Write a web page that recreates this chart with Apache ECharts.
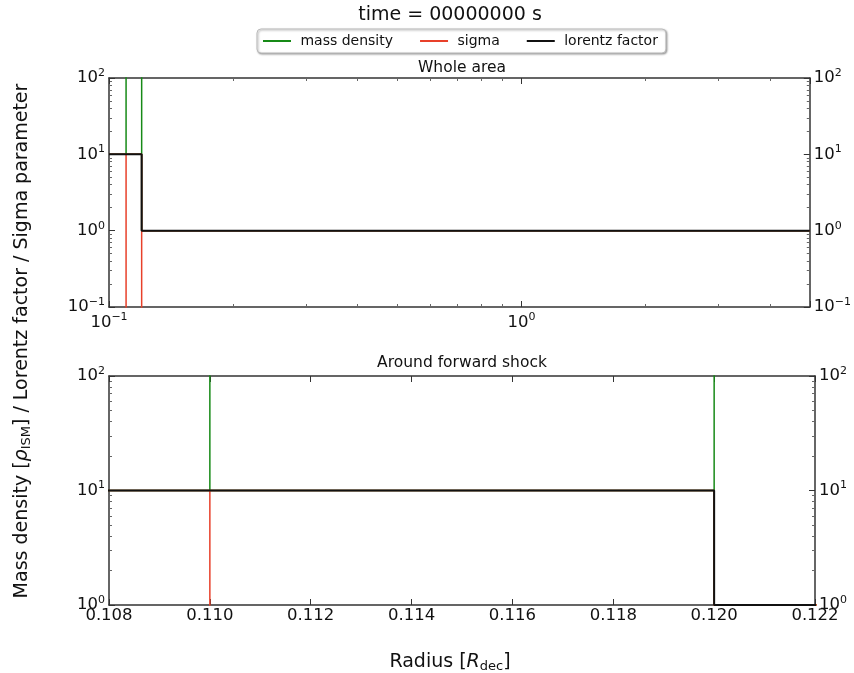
<!DOCTYPE html>
<html>
<head>
<meta charset="utf-8">
<script src="https://cdn.jsdelivr.net/npm/echarts@6/dist/echarts.min.js"></script>
<style>
    html, body { margin: 0; padding: 0; background: #fff; }
    #chart { width: 854px; height: 673px; }
</style>
</head>
<body>
<div id="chart"></div>
<script>
// radius grid points (shared by both panels, lower panel just zooms in)
var radius = [0.1, 0.11, 0.11, 0.11, 0.12, 0.12, 0.12, 5];
var massDensity = [10, 10, 1000, 10, 10, 1000, 1, 1];
var sigma = [10, 10, 0.001, 10, 10, 0.001, 1, 1];
var lorentzRadius = [0.1, 0.12, 0.12, 5];
var lorentzFactor = [10, 10, 1, 1];

var seriesNames = ['mass density', 'sigma', 'lorentz factor'];
var seriesColors = ['#178a17', '#e8402a', '#111111'];

var FONT = 'DejaVu Sans';
var TICK_FS = 16.5;

function pairs(xs, ys) {
    var out = [];
    for (var i = 0; i < xs.length; i++) out.push([xs[i], ys[i]]);
    return out;
}

function powLabel(v) {
    var e = Math.round(Math.log10(v));
    if (Math.abs(Math.pow(10, e) - v) > 1e-9 * Math.pow(10, e)) return '';
    var s = e < 0 ? '\u2212' + (-e) : '' + e;
    return '10{s|' + s + '}';
}

var supRich = {
    s: { fontSize: 11, fontFamily: FONT, color: '#111', padding: [0, 0, 10, 0] }
};

var lineCol = '#333';

function logAxis(grid, pos, min, max, showLabel) {
    return {
        type: 'log',
        logBase: 10,
        gridIndex: grid,
        position: pos,
        min: min,
        max: max,
        axisLine: { show: true, lineStyle: { color: lineCol, width: 1.5 } },
        axisTick: { show: true, inside: true, length: 6, lineStyle: { color: lineCol } },
        minorTick: { show: true, splitNumber: 9, length: 3, lineStyle: { color: '#666' } },
        splitLine: { show: false },
        axisLabel: {
            show: showLabel,
            formatter: powLabel,
            fontSize: TICK_FS,
            fontFamily: FONT,
            color: '#111',
            margin: 4,
            rich: supRich
        }
    };
}

var xLin = {
    type: 'value',
    gridIndex: 1,
    position: 'bottom',
    min: 0.108,
    max: 0.122,
    interval: 0.002,
    axisLine: { show: true, lineStyle: { color: lineCol, width: 1.5 } },
    axisTick: { show: true, inside: true, length: 6, lineStyle: { color: lineCol } },
    splitLine: { show: false },
    axisLabel: {
        formatter: function (v) { return v.toFixed(3); },
        fontSize: TICK_FS,
        fontFamily: FONT,
        color: '#111',
        margin: 2,
        showMinLabel: true,
        showMaxLabel: true
    }
};
var xLinTop = JSON.parse(JSON.stringify(xLin));
xLinTop.position = 'top';
xLinTop.axisLabel = { show: false };

var series = [];
[0, 1].forEach(function (g) {
    series.push({
        name: seriesNames[0], type: 'line', xAxisIndex: g * 2, yAxisIndex: g * 2,
        data: pairs(radius, massDensity), showSymbol: false, clip: true,
        lineStyle: { color: seriesColors[0], width: 1.5 }, itemStyle: { color: seriesColors[0] }
    });
    series.push({
        name: seriesNames[1], type: 'line', xAxisIndex: g * 2, yAxisIndex: g * 2,
        data: pairs(radius, sigma), showSymbol: false, clip: true,
        lineStyle: { color: seriesColors[1], width: 1.5 }, itemStyle: { color: seriesColors[1] }
    });
    series.push({
        name: seriesNames[2], type: 'line', xAxisIndex: g * 2, yAxisIndex: g * 2,
        data: pairs(lorentzRadius, lorentzFactor), showSymbol: false, clip: true,
        lineStyle: { color: seriesColors[2], width: 2 }, itemStyle: { color: seriesColors[2] }
    });
});

var myChart = echarts.init(document.getElementById('chart'));
var option = {
    animation: false,
    backgroundColor: '#fff',
    grid: [
        { left: 109, right: 39, top: 78, height: 229 },
        { left: 109, right: 39, top: 376, height: 229 }
    ],
    legend: {
        data: seriesNames,
        left: 257,
        top: 29,
        icon: 'rect',
        itemWidth: 28,
        itemHeight: 2,
        itemGap: 27,
        padding: [5, 8, 5, 6],
        borderColor: '#bbb',
        borderWidth: 1,
        borderRadius: 4,
        backgroundColor: '#fff',
        shadowBlur: 2,
        shadowColor: 'rgba(0,0,0,0.35)',
        shadowOffsetX: 1,
        shadowOffsetY: 1,
        formatter: function (name) { return ' ' + name; },
        textStyle: { fontSize: 14, fontFamily: FONT, color: '#111' }
    },
    xAxis: [
        (function () {
            var a = logAxis(0, 'bottom', 0.1, 5, true);
            a.axisLabel.margin = 5;
            return a;
        })(),
        logAxis(0, 'top', 0.1, 5, false),
        xLin,
        xLinTop
    ],
    yAxis: [
        logAxis(0, 'left', 0.1, 100, true),
        logAxis(0, 'right', 0.1, 100, true),
        logAxis(1, 'left', 1, 100, true),
        logAxis(1, 'right', 1, 100, true)
    ],
    graphic: [
        {
            type: 'text', x: 450, y: 15,
            style: { text: 'time = 00000000 s', fontSize: 19, fontFamily: FONT, fill: '#111', align: 'center', verticalAlign: 'middle' }
        },
        {
            type: 'text', x: 462, y: 68,
            style: { text: 'Whole area', fontSize: 15.5, fontFamily: FONT, fill: '#111', align: 'center', verticalAlign: 'middle' }
        },
        {
            type: 'text', x: 462, y: 363,
            style: { text: 'Around forward shock', fontSize: 15.5, fontFamily: FONT, fill: '#111', align: 'center', verticalAlign: 'middle' }
        },
        {
            type: 'text', x: 450, y: 662,
            style: {
                text: 'Radius [{i|R}{sub|dec}]',
                fontSize: 19, fontFamily: FONT, fill: '#111', align: 'center', verticalAlign: 'middle',
                rich: {
                    i: { fontSize: 19, fontFamily: FONT, fontStyle: 'italic', fill: '#111' },
                    sub: { fontSize: 13, fontFamily: FONT, fill: '#111', padding: [9, 0, 0, 0] }
                }
            }
        },
        {
            type: 'text', x: 22, y: 341, rotation: Math.PI / 2,
            style: {
                text: 'Mass density [{i|\u03c1}{sub|ISM}] / Lorentz factor / Sigma parameter',
                fontSize: 19, fontFamily: FONT, fill: '#111', align: 'center', verticalAlign: 'middle',
                rich: {
                    i: { fontSize: 19, fontFamily: FONT, fontStyle: 'italic', fill: '#111' },
                    sub: { fontSize: 13, fontFamily: FONT, fill: '#111', padding: [9, 0, 0, 0] }
                }
            }
        }
    ],
    series: series
};
myChart.setOption(option);
</script>
</body>
</html>
